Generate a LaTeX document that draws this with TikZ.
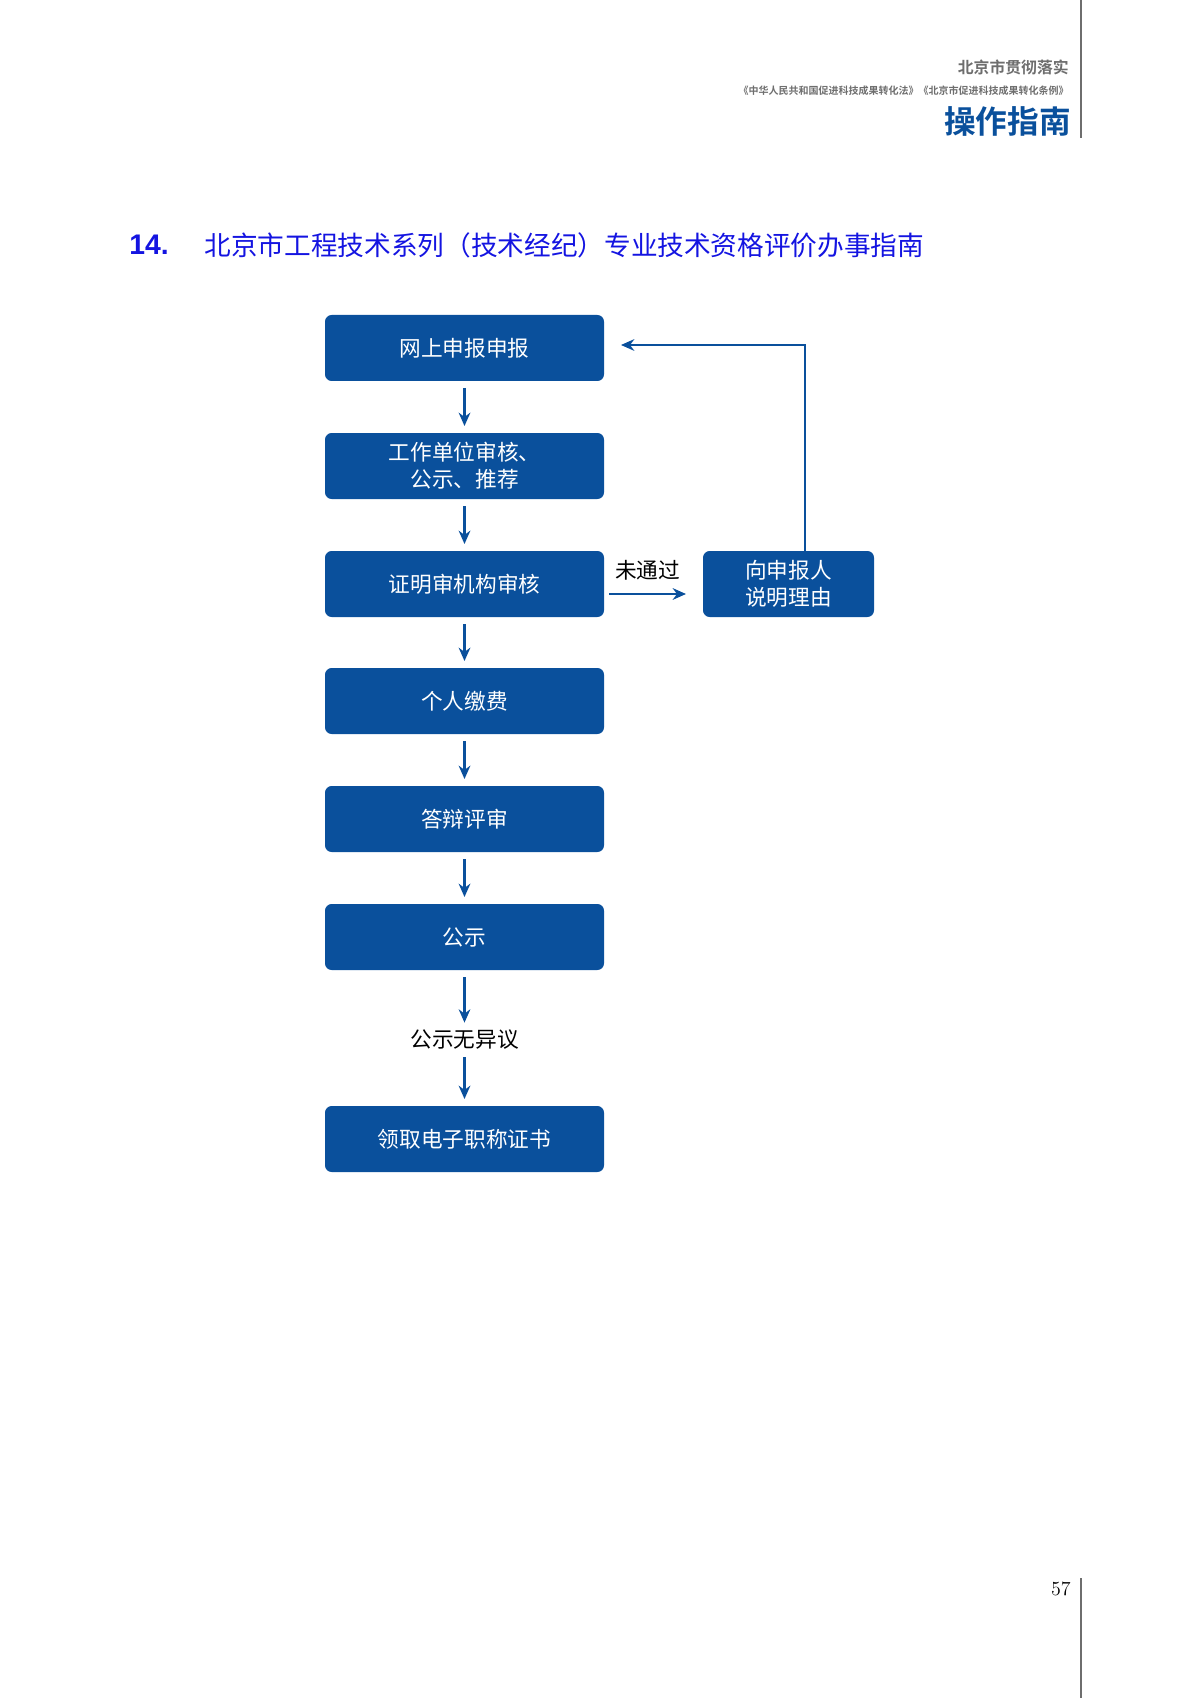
\documentclass[tikz,border=0pt]{standalone}
\usepackage{fontspec}
\newfontfamily\cjk{Noto Sans CJK SC}
\newfontfamily\cjkb{Noto Sans CJK SC Bold}
\usetikzlibrary{arrows.meta}
\definecolor{boxblue}{RGB}{10,80,156}
\definecolor{titleblue}{RGB}{20,20,225}
\definecolor{hgray}{RGB}{110,110,110}
\begin{document}
\begin{tikzpicture}[x=0.6pt,y=-0.6pt,
 stepbox/.style={fill=boxblue,rounded corners=4pt,minimum width=167.4pt,minimum height=39.6pt,text=white,font=\cjk\fontsize{13}{16}\selectfont,align=center,inner sep=0pt},
 flow/.style={draw=boxblue,line width=1.6pt,-{Stealth[length=8pt,width=7pt]}},
 lbl/.style={font=\cjk\fontsize{13}{16}\selectfont,text=black}]
\useasboundingbox (0,0) rectangle (1200,1698);
% header
\draw[hgray,line width=0.8pt] (1081,0) -- (1081,138);
\draw[hgray,line width=0.8pt] (1081,1578) -- (1081,1698);
\node[anchor=east,text=hgray,font=\cjkb\fontsize{9.5}{11}\selectfont,inner sep=0] (h1) at (1069,67) {北京市贯彻落实};
\node[anchor=east,text=hgray,font=\cjkb\fontsize{6}{7}\selectfont,inner sep=0] (h2) at (1069,91) {《中华人民共和国促进科技成果转化法》《北京市促进科技成果转化条例》};
\node[anchor=east,text=boxblue,font=\cjkb\fontsize{19}{22}\selectfont,inner sep=0] (h3) at (1071,121) {操作指南};
\node[anchor=east,font=\fontsize{12}{14}\selectfont,inner sep=0] (pg) at (1071,1589) {57};
% title
\node[anchor=west,text=titleblue,font=\fontspec{Liberation Sans}\bfseries\fontsize{17}{20}\selectfont,inner sep=0] (tn) at (129,245) {14.};
\node[anchor=west,text=titleblue,font=\cjk\fontsize{16}{20}\selectfont,inner sep=0] (tt) at (204,245) {北京市工程技术系列（技术经纪）专业技术资格评价办事指南};
% boxes
\node[stepbox] (b1) at (464.5,348) {网上申报申报};
\node[stepbox] (b2) at (464.5,466) {工作单位审核、\\公示、推荐};
\node[stepbox] (b3) at (464.5,584) {证明审机构审核};
\node[stepbox] (b4) at (464.5,701) {个人缴费};
\node[stepbox] (b5) at (464.5,819) {答辩评审};
\node[stepbox] (b6) at (464.5,937) {公示};
\node[lbl] (t7) at (464.5,1040) {公示无异议};
\node[stepbox] (b7) at (464.5,1139) {领取电子职称证书};
\node[stepbox,minimum width=102.6pt] (r) at (788.5,584) {向申报人\\说明理由};
% arrows
\foreach \a/\b in {b1/b2,b2/b3,b3/b4,b4/b5,b5/b6}
  \draw[flow,shorten <=4pt,shorten >=4pt] (\a) -- (\b);
\draw[flow,shorten <=4pt,shorten >=1pt] (b6) -- (t7);
\draw[flow,shorten <=1pt,shorten >=4pt] (t7) -- (b7);
\draw[flow] ([xshift=3pt,yshift=-6pt]b3.east) -- ([xshift=-10pt,yshift=-6pt]r.west) node[lbl,midway,above=4pt] (nt) {未通过};
\coordinate (c1) at (805,345);
\draw[flow] (r.north -| c1) -- (c1) -- ([xshift=10pt]c1 -| b1.east);
\end{tikzpicture}
\end{document}
